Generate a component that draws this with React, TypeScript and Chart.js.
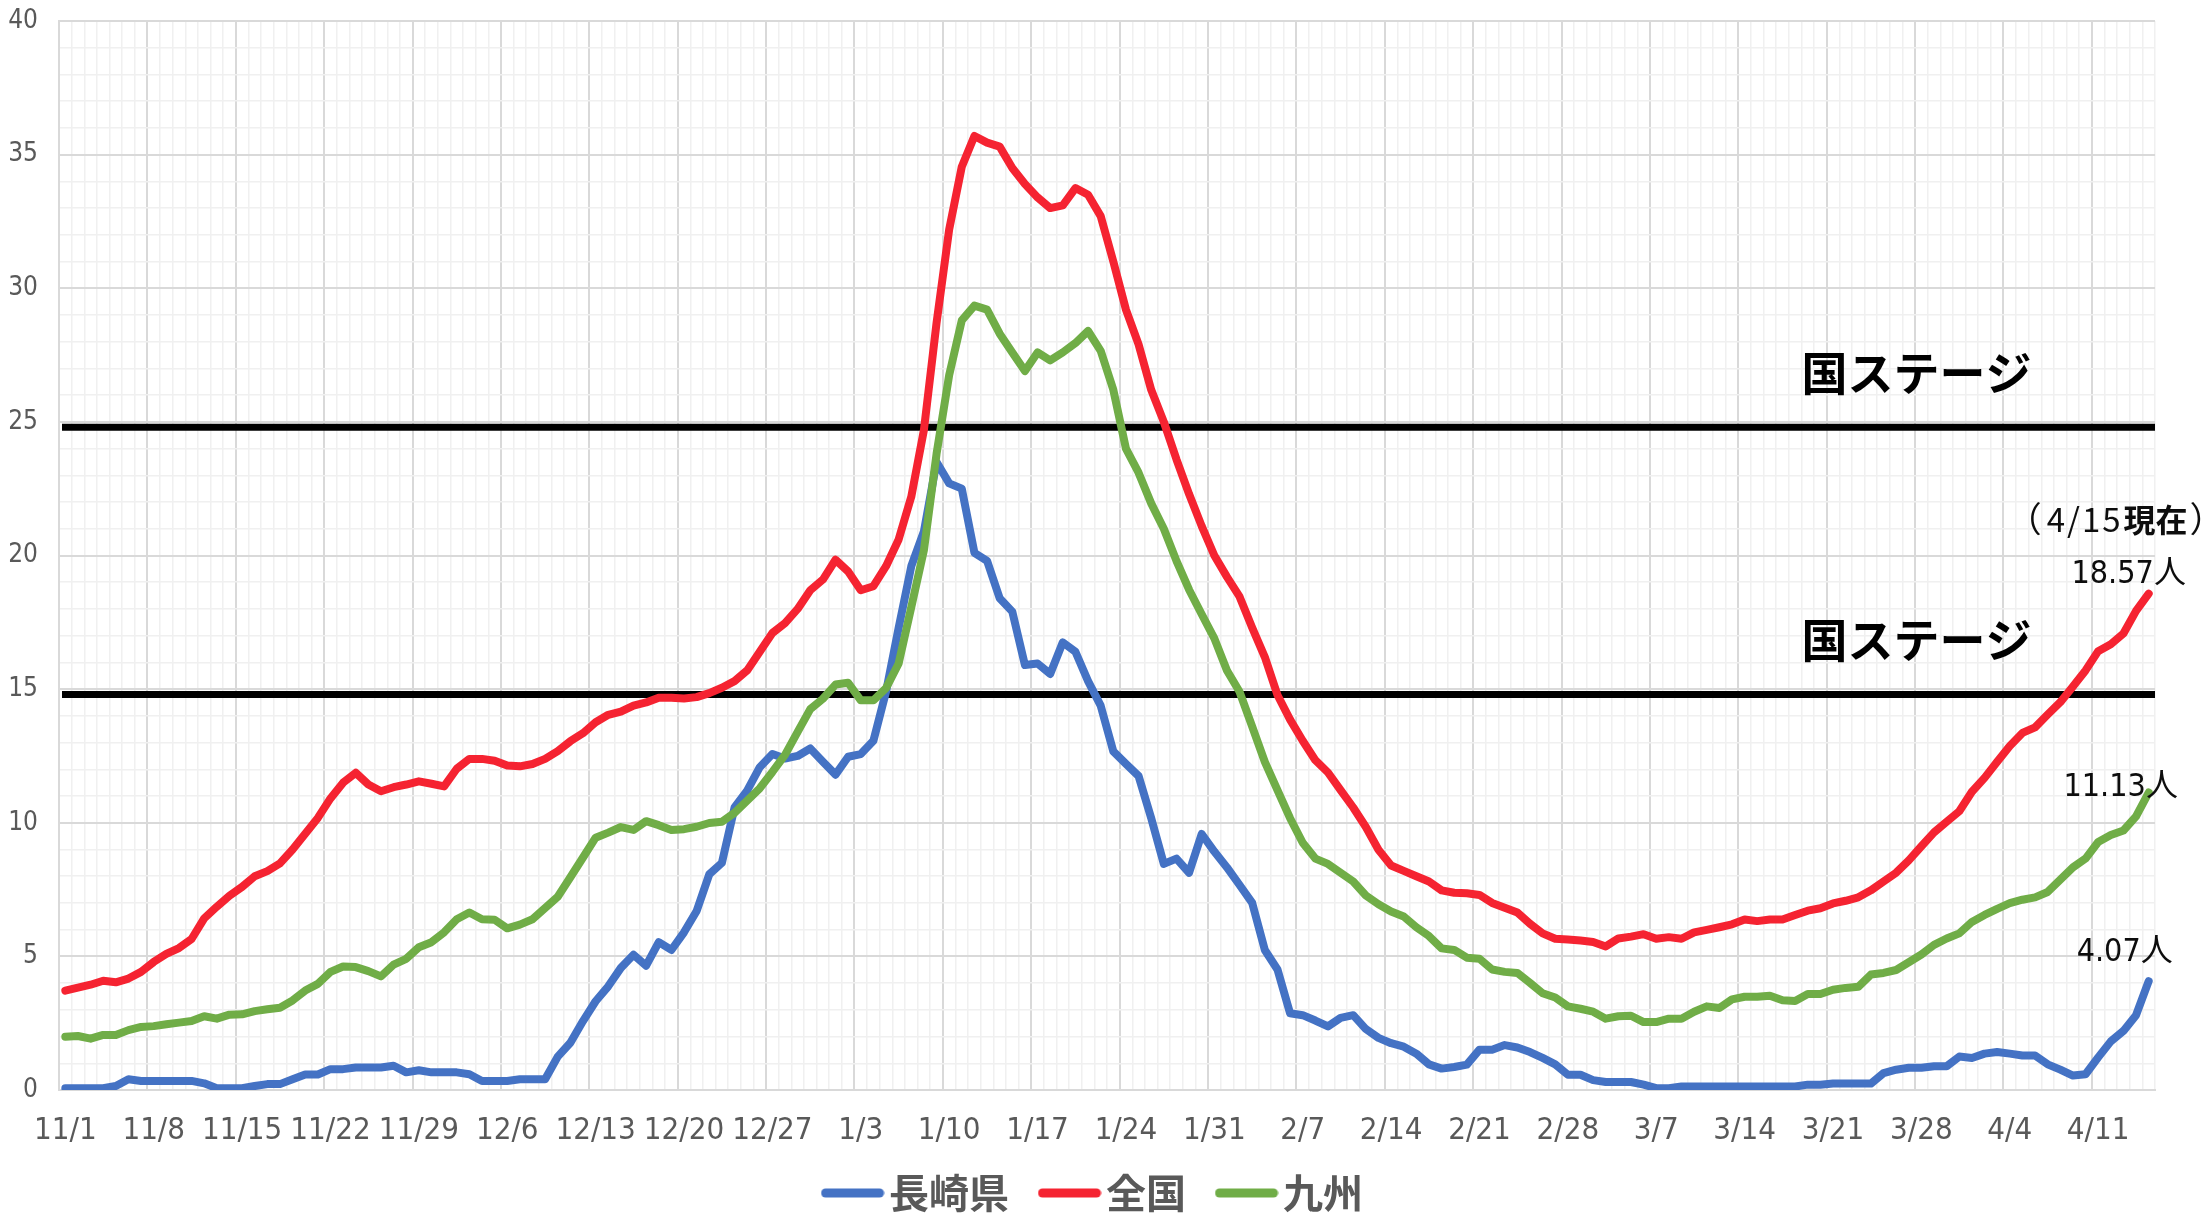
import React, { useEffect, useRef } from 'react';
import { Chart, registerables } from 'chart.js';

Chart.register(...registerables);

// ---------- data ----------
const DAY_COUNT = 166; // 2020-11-01 .. 2021-04-15
const categories: string[] = Array.from({ length: DAY_COUNT }, (_, i) => {
  const dt = new Date(Date.UTC(2020, 10, 1 + i));
  return `${dt.getUTCMonth() + 1}/${dt.getUTCDate()}`;
});

const seriesNames = ['長崎県', '全国', '九州'];
const seriesColors = ['#4472C4', '#F52331', '#70AD47'];

const nagasaki: number[] = [
  0.07, 0.07, 0.07, 0.07, 0.15, 0.4, 0.34, 0.34, 0.34, 0.34,
  0.34, 0.25, 0.07, 0.07, 0.07, 0.15, 0.22, 0.22, 0.4, 0.58,
  0.58, 0.78, 0.78, 0.84, 0.84, 0.84, 0.91, 0.66, 0.74, 0.66,
  0.66, 0.66, 0.59, 0.34, 0.34, 0.34, 0.4, 0.4, 0.4, 1.25,
  1.77, 2.58, 3.32, 3.88, 4.57, 5.06, 4.65, 5.53, 5.24, 5.9,
  6.7, 8.07, 8.5, 10.57, 11.2, 12.08, 12.57, 12.4, 12.5, 12.78,
  12.28, 11.8, 12.47, 12.57, 13.07, 14.9, 17.3, 19.6, 20.9, 23.5,
  22.7, 22.5, 20.1, 19.8, 18.4, 17.9, 15.9, 15.96, 15.57, 16.75,
  16.4, 15.3, 14.38, 12.67, 12.2, 11.75, 10.17, 8.46, 8.66, 8.13,
  9.58, 8.92, 8.33, 7.67, 7.0, 5.24, 4.51, 2.87, 2.8, 2.6,
  2.38, 2.7, 2.8, 2.28, 1.95, 1.75, 1.62, 1.36, 0.96, 0.8,
  0.86, 0.95, 1.51, 1.51, 1.68, 1.59, 1.42, 1.2, 0.96, 0.57,
  0.57, 0.37, 0.3, 0.3, 0.3, 0.2, 0.07, 0.07, 0.13, 0.13,
  0.13, 0.13, 0.13, 0.13, 0.13, 0.13, 0.13, 0.13, 0.2, 0.2,
  0.24, 0.24, 0.24, 0.24, 0.63, 0.76, 0.83, 0.83, 0.89, 0.89,
  1.25, 1.2, 1.36, 1.42, 1.36, 1.29, 1.29, 0.96, 0.76, 0.54,
  0.59, 1.22, 1.82, 2.21, 2.8, 4.07,
];

const zenkoku: number[] = [
  3.72, 3.83, 3.94, 4.09, 4.03, 4.17, 4.42, 4.79, 5.09, 5.31,
  5.65, 6.42, 6.86, 7.27, 7.6, 8.0, 8.19, 8.48, 9.0, 9.59,
  10.18, 10.91, 11.5, 11.87, 11.43, 11.18, 11.33, 11.43, 11.55, 11.46,
  11.36, 12.02, 12.39, 12.39, 12.32, 12.14, 12.11, 12.2, 12.39, 12.68,
  13.05, 13.35, 13.76, 14.04, 14.16, 14.38, 14.5, 14.68, 14.68, 14.65,
  14.7, 14.85, 15.05, 15.3, 15.7, 16.4, 17.1, 17.47, 18.0, 18.7,
  19.1, 19.84, 19.4, 18.7, 18.85, 19.6, 20.6, 22.2, 24.7, 28.7,
  32.2, 34.55, 35.7, 35.45, 35.3, 34.5, 33.9, 33.4, 33.0, 33.1,
  33.75, 33.5, 32.7, 31.0, 29.2, 27.9, 26.2, 25.0, 23.6, 22.3,
  21.1, 20.0, 19.2, 18.46, 17.3, 16.2, 14.78, 13.86, 13.07, 12.34,
  11.88, 11.22, 10.57, 9.84, 8.99, 8.4, 8.2, 8.0, 7.8, 7.47,
  7.38, 7.36, 7.3, 7.0, 6.82, 6.64, 6.22, 5.86, 5.66, 5.63,
  5.59, 5.54, 5.37, 5.67, 5.74, 5.83, 5.66, 5.72, 5.66, 5.9,
  5.99, 6.09, 6.2, 6.38, 6.32, 6.38, 6.38, 6.55, 6.71, 6.8,
  6.98, 7.08, 7.21, 7.47, 7.8, 8.13, 8.59, 9.12, 9.64, 10.04,
  10.43, 11.16, 11.68, 12.28, 12.87, 13.36, 13.57, 14.05, 14.51, 15.1,
  15.7, 16.42, 16.68, 17.08, 17.93, 18.57,
];

const kyushu: number[] = [
  1.99, 2.02, 1.92, 2.06, 2.06, 2.24, 2.36, 2.39, 2.46, 2.52,
  2.58, 2.76, 2.67, 2.82, 2.83, 2.95, 3.02, 3.08, 3.35, 3.72,
  3.97, 4.42, 4.62, 4.6, 4.45, 4.25, 4.69, 4.91, 5.34, 5.53,
  5.9, 6.39, 6.64, 6.39, 6.37, 6.05, 6.19, 6.39, 6.81, 7.23,
  7.96, 8.7, 9.44, 9.63, 9.84, 9.73, 10.06, 9.91, 9.73, 9.76,
  9.85, 9.99, 10.04, 10.37, 10.83, 11.29, 11.9, 12.54, 13.4, 14.25,
  14.64, 15.17, 15.24, 14.58, 14.58, 15.04, 15.96, 18.07, 20.2, 23.8,
  26.75, 28.8, 29.35, 29.2, 28.3, 27.6, 26.9, 27.6, 27.3, 27.6,
  27.95, 28.4, 27.66, 26.2, 24.0, 23.1, 21.95, 21.0, 19.8, 18.72,
  17.8, 16.9, 15.7, 14.9, 13.6, 12.28, 11.22, 10.17, 9.25, 8.66,
  8.46, 8.13, 7.8, 7.28, 6.95, 6.68, 6.49, 6.09, 5.76, 5.3,
  5.24, 4.95, 4.91, 4.51, 4.42, 4.38, 4.01, 3.62, 3.46, 3.13,
  3.04, 2.93, 2.67, 2.76, 2.78, 2.54, 2.54, 2.67, 2.67, 2.93,
  3.13, 3.07, 3.39, 3.49, 3.49, 3.53, 3.36, 3.33, 3.59, 3.59,
  3.75, 3.82, 3.86, 4.32, 4.38, 4.49, 4.78, 5.07, 5.43, 5.67,
  5.86, 6.29, 6.55, 6.78, 6.99, 7.12, 7.21, 7.41, 7.87, 8.33,
  8.66, 9.28, 9.54, 9.71, 10.24, 11.13,
];

const seriesValues = [nagasaki, zenkoku, kyushu];

const stageLevels = [24.8, 14.8];
const stageLabel = '国ステージ';
const asOfDate = '4/15';
const asOfWord = '現在';
const unitLabel = '人';

const yMin = 0;
const yMax = 40;
const yMajorStep = 5;
const xLabelEvery = 7;

// ---------- styling ----------
const NARROW = "'Liberation Sans Narrow', 'DejaVu Sans Condensed', 'Arial Narrow', sans-serif";
const CJK = "'Noto Sans CJK JP', sans-serif";
const MAJOR_GRID = '#D9D9D9';
const MINOR_GRID = '#F0F0F0';
const TICK_COLOR = '#595959';
const CANVAS_W = 2201;
const CANVAS_H = 1223;
const LEGEND_SHIFT = 22;

const endLabelOffsets = [
  { dx: -24, dy: -20 }, // 長崎県
  { dx: -20, dy: -11 }, // 全国
  { dx: -28, dy: 3 },   // 九州
];

function makeLegendMarker(color: string): HTMLCanvasElement {
  const c = document.createElement('canvas');
  c.width = 64;
  c.height = 10;
  const g = c.getContext('2d');
  if (g) {
    g.strokeStyle = color;
    g.lineWidth = 9;
    g.lineCap = 'round';
    g.beginPath();
    g.moveTo(5, 5);
    g.lineTo(59, 5);
    g.stroke();
  }
  return c;
}

const overlayPlugin = {
  id: 'overlay',
  afterLayout(chart: any) {
    // let the x tick labels extend below the (compact) axis box without being clipped
    const xs = chart.scales.x;
    if (xs) xs.bottom = Math.max(xs.bottom, xs.top + 70);
    if (chart.legend) {
      chart.legend.left += LEGEND_SHIFT;
      chart.legend.right += LEGEND_SHIFT;
    }
  },
  beforeDatasetsDraw(chart: any) {
    const { ctx, chartArea, scales } = chart;
    const y = scales.y;
    ctx.save();
    ctx.strokeStyle = '#000000';
    ctx.lineWidth = 7;
    ctx.lineCap = 'butt';
    stageLevels.forEach((v) => {
      const py = y.getPixelForValue(v);
      ctx.beginPath();
      ctx.moveTo(chartArea.left + 3, py);
      ctx.lineTo(chartArea.right, py);
      ctx.stroke();
    });
    ctx.restore();
  },
  afterDatasetsDraw(chart: any) {
    const { ctx, scales } = chart;
    const x = scales.x;
    const y = scales.y;
    ctx.save();
    // stage labels
    ctx.fillStyle = '#000000';
    ctx.font = `bold 46px ${CJK}`;
    ctx.textAlign = 'left';
    ctx.textBaseline = 'middle';
    stageLevels.forEach((v) => {
      ctx.fillText(stageLabel, x.getPixelForValue(137.5), y.getPixelForValue(v + 2.05));
    });

    // end-of-series labels
    ctx.textBaseline = 'alphabetic';
    seriesValues.forEach((vals, i) => {
      const meta = chart.getDatasetMeta(i);
      const pt = meta.data[meta.data.length - 1];
      if (!pt) return;
      const num = vals[vals.length - 1].toFixed(2);
      const numFont = `32px ${NARROW}`;
      const cjkFont = `32px ${CJK}`;
      ctx.font = numFont;
      const wNum = ctx.measureText(num).width;
      ctx.font = cjkFont;
      const wCjk = ctx.measureText(unitLabel).width;
      const off = endLabelOffsets[i];
      const left = pt.x + off.dx - (wNum + wCjk) / 2;
      const base = pt.y + off.dy;
      ctx.fillStyle = '#0D0D0D';
      ctx.font = numFont;
      ctx.fillText(num, left, base);
      ctx.font = cjkFont;
      ctx.fillText(unitLabel, left + wNum, base);

      if (i === 1) {
        // （4/15現在）
        let cx = pt.x - 142;
        const b2 = pt.y - 62;
        ctx.font = `35px ${CJK}`;
        ctx.fillText('（', cx, b2);
        cx += ctx.measureText('（').width + 5;
        ctx.font = `33px ${CJK}`;
        const anyCtx = ctx as any;
        anyCtx.letterSpacing = '2px';
        ctx.fillText(asOfDate, cx, b2);
        cx += ctx.measureText(asOfDate).width + 1;
        anyCtx.letterSpacing = '0px';
        ctx.font = `bold 32px ${CJK}`;
        ctx.fillText(asOfWord, cx, b2);
        cx += ctx.measureText(asOfWord).width + 2;
        ctx.font = `35px ${CJK}`;
        ctx.fillText('）', cx, b2);
      }
    });
    ctx.restore();
  },
};

export default function App() {
  const canvasRef = useRef<HTMLCanvasElement | null>(null);

  useEffect(() => {
    const canvas = canvasRef.current;
    if (!canvas) return;
    const markers = seriesColors.map((c) => makeLegendMarker(c));
    const chart = new Chart(canvas, {
      type: 'line',
      data: {
        labels: categories,
        datasets: seriesValues.map((vals, i) => ({
          label: seriesNames[i],
          data: vals,
          borderColor: seriesColors[i],
          backgroundColor: seriesColors[i],
          borderWidth: 8,
          pointRadius: 0,
          pointHoverRadius: 0,
          tension: 0,
          borderJoinStyle: 'round',
          borderCapStyle: 'round',
          fill: false,
          order: 3 - i,
        })),
      },
      options: {
        responsive: false,
        animation: false,
        devicePixelRatio: 1,
        events: [],
        layout: { padding: { left: 0, top: 21, right: 46, bottom: 0 } },
        scales: {
          x: {
            type: 'category',
            offset: true,
            grid: {
              offset: true,
              drawTicks: false,
              color: (c: any) => (c.index % xLabelEvery === 0 ? MAJOR_GRID : MINOR_GRID),
              lineWidth: (c: any) => (c.index % xLabelEvery === 0 ? 2 : 1.5),
            },
            border: { display: true, color: MAJOR_GRID, width: 2 },
            ticks: {
              autoSkip: false,
              maxRotation: 0,
              minRotation: 0,
              padding: 22,
              color: TICK_COLOR,
              font: { family: NARROW, size: 31 },
              callback: (_v: any, index: number) => (index % xLabelEvery === 0 ? categories[index] : ''),
            },
            afterFit: (s: any) => {
              s.height = 39;
            },
          },
          y: {
            min: yMin,
            max: yMax,
            grid: {
              drawTicks: false,
              color: (c: any) => (c.tick && c.tick.value % yMajorStep === 0 ? MAJOR_GRID : MINOR_GRID),
              lineWidth: (c: any) => (c.tick && c.tick.value % yMajorStep === 0 ? 2 : 1.5),
            },
            border: { display: true, color: MAJOR_GRID, width: 2 },
            ticks: {
              stepSize: 1,
              autoSkip: false,
              maxTicksLimit: 100,
              padding: 21,
              color: TICK_COLOR,
              font: { family: NARROW, size: 26 },
              callback: (v: any) => (Number(v) % yMajorStep === 0 ? String(v) : ''),
            },
            afterFit: (s: any) => {
              s.width = 59;
              s.paddingTop = 0;
              s.paddingBottom = 0;
            },
          },
        },
        plugins: {
          tooltip: { enabled: false },
          legend: {
            display: true,
            position: 'bottom',
            labels: {
              usePointStyle: true,
              pointStyleWidth: 33,
              boxHeight: 10,
              padding: 44,
              color: TICK_COLOR,
              font: { family: CJK, size: 40, weight: 'bold', lineHeight: 1 },
              generateLabels: (ch: any) =>
                ch.data.datasets.map((ds: any, i: number) => ({
                  text: ds.label,
                  fillStyle: ds.borderColor,
                  strokeStyle: ds.borderColor,
                  lineWidth: 0,
                  hidden: false,
                  datasetIndex: i,
                  fontColor: TICK_COLOR,
                  pointStyle: markers[i],
                })),
            },
          },
        },
      },
      plugins: [overlayPlugin],
    } as any);
    return () => {
      chart.destroy();
    };
  }, []);

  return (
    <div style={{ position: 'fixed', left: 0, top: 0, width: CANVAS_W, height: CANVAS_H, background: '#ffffff', overflow: 'hidden' }}>
      <canvas ref={canvasRef} width={CANVAS_W} height={CANVAS_H} style={{ width: CANVAS_W, height: CANVAS_H, display: 'block' }} />
    </div>
  );
}
